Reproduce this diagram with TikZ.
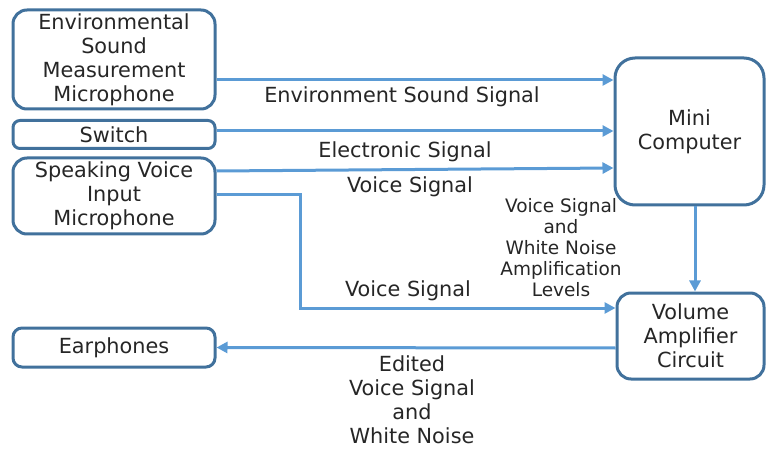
\documentclass[tikz,border=0pt]{standalone}
\usepackage{fontspec}
\setmainfont{DejaVu Sans}
\usetikzlibrary{arrows.meta}
\definecolor{boxc}{HTML}{41719C}
\definecolor{arrc}{HTML}{5B9BD5}
\definecolor{txtc}{HTML}{262626}
\begin{document}
\begin{tikzpicture}[x=1pt,y=-1pt,
  box/.style={draw=boxc,line width=3pt,rounded corners=14pt,align=center,text=txtc,
    font=\fontsize{20.8}{24}\selectfont,inner sep=0pt},
  bigbox/.style={box,rounded corners=20pt},
  arr/.style={draw=arrc,line width=3pt,-{Triangle[length=11pt,width=11pt]}},
  lab/.style={align=center,text=txtc,font=\fontsize{20.8}{24}\selectfont,inner sep=0pt},
  slab/.style={align=center,text=txtc,font=\fontsize{18.5}{21}\selectfont,inner sep=0pt}]
\useasboundingbox (0,0) rectangle (766,449);
\node[box,minimum width=202pt,minimum height=99pt] (env) at (114,59.5) {Environmental\\Sound\\Measurement\\Microphone};
\node[box,rounded corners=7pt,minimum width=202pt,minimum height=28pt] (sw) at (114,134.5) {Switch};
\node[box,minimum width=202pt,minimum height=76pt] (sp) at (114,196) {Speaking Voice\\Input\\Microphone};
\node[bigbox,minimum width=149pt,minimum height=147pt] (mini) at (689.5,131.5) {Mini\\Computer};
\node[box,minimum width=147pt,minimum height=86pt] (vol) at (690.5,336) {Volume\\Amplifier\\Circuit};
\node[box,rounded corners=9pt,minimum width=202pt,minimum height=39pt] (ear) at (114,347.5) {Earphones};

\draw[arr] (env.east |- 0,80) -- (mini.west |- 0,80);
\draw[arr] (sw.east |- 0,131) -- (mini.west |- 0,131);
\draw[arr] (sp.east |- 0,171) -- (mini.west |- 0,168);
\draw[arr] (sp.east |- 0,195) -- (300,195) -- (300,308) -- (vol.west |- 0,308);
\draw[arr] (mini.south -| 695,0) -- (vol.north -| 695,0);
\draw[arr] (vol.west |- 0,348) -- (ear.east);

\node[lab] (l1) at (402,97) {Environment Sound Signal};
\node[lab] (l2) at (405,152) {Electronic Signal};
\node[lab] (l3) at (410,187) {Voice Signal};
\node[lab] (l4) at (408,291) {Voice Signal};
\node[slab] (l5) at (561,248) {Voice Signal\\and\\White Noise\\Amplification\\Levels};
\node[lab] (l6) at (412,400) {Edited\\Voice Signal\\and\\White Noise};
\end{tikzpicture}
\end{document}
